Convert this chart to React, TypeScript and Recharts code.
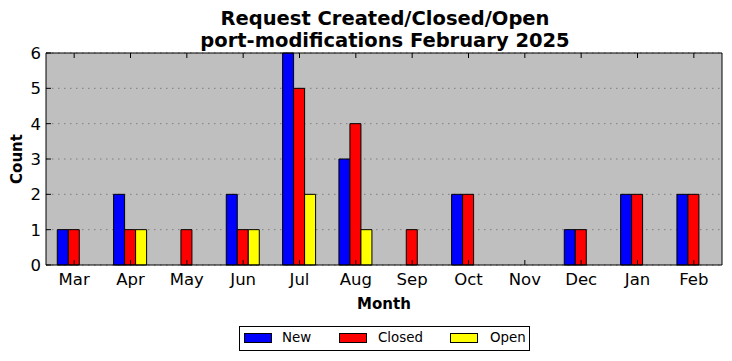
import { BarChart, Bar, XAxis, YAxis, CartesianGrid } from 'recharts';

const months = ['Mar', 'Apr', 'May', 'Jun', 'Jul', 'Aug', 'Sep', 'Oct', 'Nov', 'Dec', 'Jan', 'Feb'];
const newCounts = [1, 2, 0, 2, 6, 3, 0, 2, 0, 1, 2, 2];
const closedCounts = [1, 1, 1, 1, 5, 4, 1, 2, 0, 1, 2, 2];
const openCounts = [0, 1, 0, 1, 2, 1, 0, 0, 0, 0, 0, 0];
const yTicks = [0, 1, 2, 3, 4, 5, 6];

const series = [
  { key: 'New', color: '#0000ff' },
  { key: 'Closed', color: '#ff0000' },
  { key: 'Open', color: '#ffff00' },
];

const data = months.map((m, i) => ({
  month: m,
  New: newCounts[i],
  Closed: closedCounts[i],
  Open: openCounts[i],
}));

const FONT = '"DejaVu Sans", sans-serif';

const BottomTick = ({ x, y, payload }: any) => (
  <g>
    <line x1={x} y1={y} x2={x} y2={y - 5} stroke="#000" />
    <text x={x} y={y + 20} textAnchor="middle" fontSize={16.5} fill="#000" fontFamily={FONT}>
      {payload.value}
    </text>
  </g>
);

const TopTick = ({ x, y }: any) => <line x1={x} y1={y} x2={x} y2={y + 5} stroke="#000" />;

const LeftTick = ({ x, y, payload }: any) => (
  <g>
    <line x1={x} y1={y} x2={x + 5} y2={y} stroke="#000" />
    <text x={x - 5} y={y + 6} textAnchor="end" fontSize={16.5} fill="#000" fontFamily={FONT}>
      {payload.value}
    </text>
  </g>
);

const RightTick = ({ x, y }: any) => <line x1={x} y1={y} x2={x - 5} y2={y} stroke="#000" />;

// legend item offsets inside the legend box (swatch left, text left)
const legendPos = [
  { swatch: 4, text: 42 },
  { swatch: 99, text: 138 },
  { swatch: 210, text: 250 },
];

export default function App() {
  return (
    <div style={{ position: 'absolute', left: 0, top: 0, width: 732, height: 361, background: '#fff', fontFamily: FONT }}>
      <div
        style={{
          position: 'absolute',
          left: 0,
          top: 8,
          width: 770,
          textAlign: 'center',
          fontWeight: 'bold',
          fontSize: 19.5,
          lineHeight: '22px',
        }}
      >
        Request Created/Closed/Open
        <br />
        port-modifications February 2025
      </div>
      <BarChart
        width={732}
        height={361}
        data={data}
        margin={{ top: 52, right: 0, bottom: 52, left: 0 }}
        barCategoryGap="20%"
        barGap={0}
      >
        <CartesianGrid
          vertical={false}
          fill="#bfbfbf"
          stroke="#7f7f7f"
          strokeDasharray="1.5 4.5"
          yAxisId="left"
        />
        <XAxis
          dataKey="month"
          xAxisId="bottom"
          height={44}
          tickSize={0}
          tickMargin={0}
          tick={<BottomTick />}
          axisLine={{ stroke: '#000' }}
          tickLine={false}
          interval={0}
          label={{ value: 'Month', position: 'insideBottom', offset: 0, fontWeight: 'bold', fontSize: 15, fill: '#000', fontFamily: FONT }}
        />
        <XAxis
          dataKey="month"
          xAxisId="top"
          orientation="top"
          height={1}
          tickSize={0}
          tickMargin={0}
          tick={<TopTick />}
          axisLine={{ stroke: '#000' }}
          tickLine={false}
          interval={0}
        />
        <YAxis
          yAxisId="left"
          width={46}
          domain={[0, 6]}
          ticks={yTicks}
          tickSize={0}
          tickMargin={0}
          tick={<LeftTick />}
          axisLine={{ stroke: '#000' }}
          tickLine={false}
          label={{ value: 'Count', angle: -90, position: 'insideLeft', offset: 17, fontWeight: 'bold', fontSize: 15, fill: '#000', fontFamily: FONT, style: { textAnchor: 'middle' } }}
        />
        <YAxis
          yAxisId="right"
          orientation="right"
          width={10}
          domain={[0, 6]}
          ticks={yTicks}
          tickSize={0}
          tickMargin={0}
          tick={<RightTick />}
          axisLine={{ stroke: '#000' }}
          tickLine={false}
        />
        {series.map((s) => (
          <Bar
            key={s.key}
            dataKey={s.key}
            xAxisId="bottom"
            yAxisId="left"
            fill={s.color}
            stroke="#000"
            strokeWidth={1}
            isAnimationActive={false}
          />
        ))}
      </BarChart>
      <div
        style={{
          position: 'absolute',
          left: 239,
          top: 326,
          width: 289,
          height: 23,
          border: '1px solid #000',
          fontSize: 13.4,
        }}
      >
        {series.map((s, i) => (
          <div key={s.key}>
            <span
              style={{
                position: 'absolute',
                left: legendPos[i].swatch,
                top: 6,
                width: 26,
                height: 8,
                background: s.color,
                border: '1px solid #000',
              }}
            />
            <span style={{ position: 'absolute', left: legendPos[i].text, top: 3, lineHeight: '16px' }}>{s.key}</span>
          </div>
        ))}
      </div>
    </div>
  );
}
